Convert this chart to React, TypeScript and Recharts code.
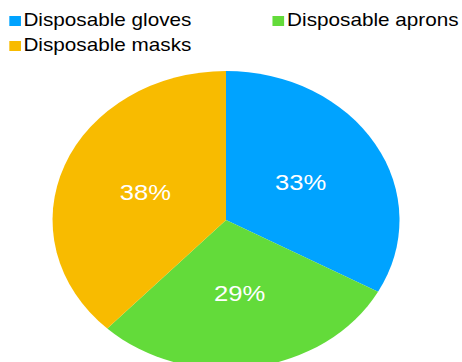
import React from "react";
import { PieChart, Pie, Cell, Legend } from "recharts";

const categories = ["Disposable gloves", "Disposable aprons", "Disposable masks"];
const shares = [33, 29, 38];
const colors = ["#00A3FF", "#63DB3A", "#F8BB00"];

// the source picture is stretched sideways, so draw a round pie and stretch it
const STRETCH = 1.1644;
const FONT = "'Liberation Sans', Arial, sans-serif";

const data = categories.map((name, i) => ({ name, value: shares[i] }));

const RAD = Math.PI / 180;

const renderLabel = (props: any) => {
  const { cx, cy, midAngle, outerRadius, value } = props;
  const r = outerRadius * 0.5;
  const x = cx + r * Math.cos(-midAngle * RAD);
  const y = cy + r * Math.sin(-midAngle * RAD);
  return (
    <text
      x={x}
      y={y}
      fill="#ffffff"
      textAnchor="middle"
      dominantBaseline="central"
      fontFamily={FONT}
      fontSize={22}
    >
      {`${value}%`}
    </text>
  );
};

const LegendContent = () => (
  <div
    style={{
      display: "grid",
      gridTemplateColumns: "226.5px auto",
      fontFamily: FONT,
      fontSize: 17.8,
      lineHeight: "25px",
      color: "#000",
      whiteSpace: "nowrap",
    }}
  >
    {categories.map((c, i) => (
      <div key={c} style={{ display: "flex", alignItems: "center", height: 25 }}>
        <span
          style={{
            display: "inline-block",
            width: 10,
            height: 10,
            background: colors[i],
            marginRight: 2.4,
          }}
        />
        <span>{c}</span>
      </div>
    ))}
  </div>
);

export default function App() {
  return (
    <div
      style={{
        position: "fixed",
        top: 0,
        left: 0,
        width: 462,
        height: 362,
        overflow: "hidden",
        background: "#fff",
      }}
    >
      <div
        style={{
          width: 397,
          height: 362,
          transform: `scaleX(${STRETCH})`,
          transformOrigin: "0 0",
        }}
      >
        <PieChart
          width={397}
          height={362}
          margin={{ top: 0, right: 0, bottom: 0, left: 0 }}
        >
          <Legend
            verticalAlign="top"
            content={<LegendContent />}
            wrapperStyle={{ top: 8, left: 7.7, width: 380, height: 0, overflow: "visible" }}
          />
          <Pie
            data={data}
            dataKey="value"
            nameKey="name"
            cx={194.1}
            cy={220}
            outerRadius={149}
            startAngle={90}
            endAngle={-270}
            stroke="none"
            label={renderLabel}
            labelLine={false}
            isAnimationActive={false}
          >
            {data.map((d, i) => (
              <Cell key={d.name} fill={colors[i]} />
            ))}
          </Pie>
        </PieChart>
      </div>
    </div>
  );
}
